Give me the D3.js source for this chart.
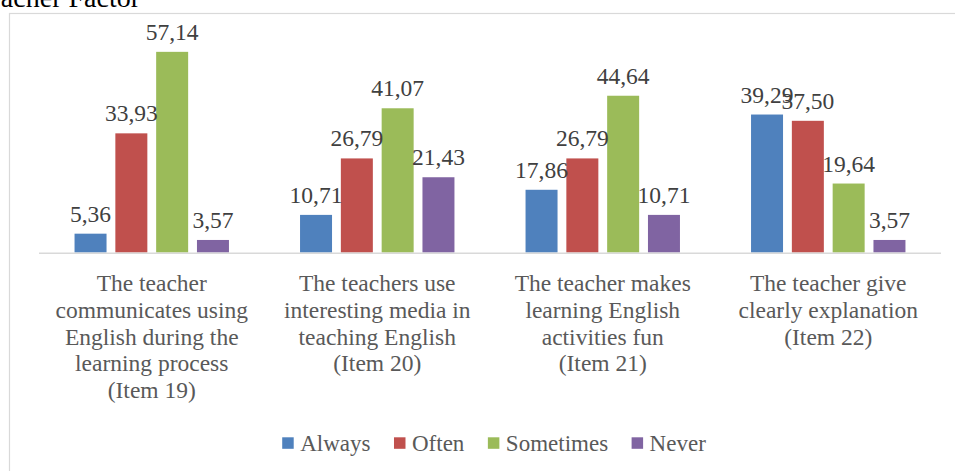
<!DOCTYPE html>
<html><head><meta charset="utf-8">
<script src="https://cdn.jsdelivr.net/npm/d3@7"></script>
<style>body{margin:0;background:#fff}svg{display:block}
svg text{font-family:"Liberation Serif","Tinos","Times New Roman","DejaVu Serif",serif;}</style>
</head><body>
<svg id="c" width="955" height="471"></svg>
<script>
const categories = [
  ["The teacher","communicates using","English during the","learning process","(Item 19)"],
  ["The teachers use","interesting media in","teaching English","(Item 20)"],
  ["The teacher makes","learning English","activities fun","(Item 21)"],
  ["The teacher give","clearly explanation","(Item 22)"]
];
const seriesNames = ["Always","Often","Sometimes","Never"];
const seriesColors = ["#4f81bd","#c0504d","#9bbb59","#8064a2"];
const always    = [5.36, 10.71, 17.86, 39.29];
const often     = [33.93, 26.79, 26.79, 37.50];
const sometimes = [57.14, 41.07, 44.64, 19.64];
const never     = [3.57, 21.43, 10.71, 3.57];
const seriesValues = [always, often, sometimes, never];
const titleText = "Teacher Factor";

const svg = d3.select("#c");

// border and title
svg.append("rect").attr("x",9.5).attr("y",13.5).attr("width",960).attr("height",480)
  .attr("fill","none").attr("stroke","#d9d9d9").attr("stroke-width",1.2);
svg.append("text").attr("x",140).attr("y",7).attr("text-anchor","end")
  .attr("font-size",28).attr("fill","#000").text(titleText);

const catIdx = categories.map((d,i)=>i);
const x0 = d3.scaleBand().domain(catIdx).range([39,941]).padding(0);
const x1 = d3.scaleBand().domain(seriesNames).range([0,x0.bandwidth()])
  .paddingInner(0.216).paddingOuter(0.871);
const y = d3.scaleLinear().domain([0,60]).range([252.5,41.8]);

const groups = svg.append("g").selectAll("g").data(catIdx).join("g")
  .attr("transform", i => `translate(${x0(i)},0)`);

groups.selectAll("rect").data(i => seriesNames.map((s,k)=>({s,k,v:seriesValues[k][i]})))
  .join("rect")
  .attr("x", d => x1(d.s)).attr("width", x1.bandwidth())
  .attr("y", d => y(d.v)).attr("height", d => y(0)-y(d.v))
  .attr("fill", d => seriesColors[d.k]);

groups.selectAll("text.val").data(i => seriesNames.map((s,k)=>({s,k,v:seriesValues[k][i]})))
  .join("text").attr("class","val")
  .attr("x", d => x1(d.s)+x1.bandwidth()/2).attr("y", d => y(d.v)-12)
  .attr("text-anchor","middle").attr("font-size",23.5)
  .attr("fill","#404040")
  .text(d => d3.format(".2f")(d.v).replace(".",","));

// axis line
svg.append("line").attr("x1",x0.range()[0]).attr("x2",x0.range()[1])
  .attr("y1",y(0)+0.8).attr("y2",y(0)+0.8).attr("stroke","#d9d9d9").attr("stroke-width",1.6);

// category labels
groups.append("text").attr("text-anchor","middle")
  .attr("font-size",23.5).attr("fill","#595959")
  .selectAll("tspan").data(i => categories[i]).join("tspan")
  .attr("x", x0.bandwidth()/2).attr("y",(d,j)=>290.7+j*26.9).text(d=>d);

// legend
const leg = svg.append("g");
let cx = 0;
seriesNames.forEach((s,k)=>{
  const g = leg.append("g").attr("transform",`translate(${cx},0)`);
  g.append("rect").attr("x",0).attr("y",437.3).attr("width",11.5).attr("height",11.5).attr("fill",seriesColors[k]);
  const t = g.append("text").attr("x",18).attr("y",451)
    .attr("font-size",23).attr("fill","#595959").text(s);
  cx += 18 + t.node().getComputedTextLength() + 23.5;
});
const legW = cx - 23.5;
leg.attr("transform",`translate(${494 - legW/2},0)`);
</script>
</body></html>
